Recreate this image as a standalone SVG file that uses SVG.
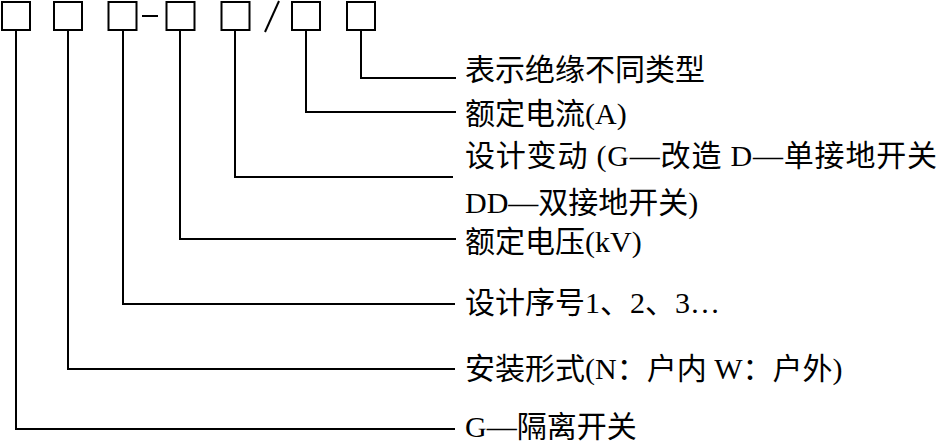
<svg xmlns="http://www.w3.org/2000/svg" width="942" height="444" viewBox="0 0 942 444">
<style>
.box{fill:#fff;stroke:#000;stroke-width:2}
.ln{fill:none;stroke:#000;stroke-width:2}
.t{font-family:"Liberation Serif","Noto Sans CJK SC",serif;font-size:30px;fill:#000}
</style>
<rect x="0" y="0" width="942" height="444" fill="#fff"/>
<g id="box1"><rect class="box" x="2" y="2" width="28" height="28"/></g>
<g id="box2"><rect class="box" x="54" y="2" width="28" height="28"/></g>
<g id="box3"><rect class="box" x="108.5" y="2" width="28" height="28"/></g>
<g id="dash"><line class="ln" x1="142" y1="16" x2="158" y2="16"/></g>
<g id="box4"><rect class="box" x="166.5" y="2" width="28" height="28"/></g>
<g id="box5"><rect class="box" x="221.5" y="2" width="28" height="28"/></g>
<g id="slash"><line class="ln" x1="279" y1="1" x2="265" y2="32"/></g>
<g id="box6"><rect class="box" x="292" y="2" width="28" height="28"/></g>
<g id="box7"><rect class="box" x="347" y="2" width="28" height="28"/></g>
<g id="connectors">
<polyline class="ln" points="16,30 16,429 455,429"/>
<polyline class="ln" points="68,30 68,369 455,369"/>
<polyline class="ln" points="123,30 123,304 455,304"/>
<polyline class="ln" points="180,30 180,239 456,239"/>
<polyline class="ln" points="235,30 235,177 453,177"/>
<polyline class="ln" points="306,30 306,112 456,112"/>
<polyline class="ln" points="361,30 361,78 456,78"/>
</g>
<g id="label7"><text class="t" x="465" y="80">表示绝缘不同类型</text></g>
<g id="label6"><text class="t" x="465" y="124">额定电流(A)</text></g>
<g id="label5"><text class="t" x="465" y="166" textLength="472" lengthAdjust="spacing">设计变动 (G—改造 D—单接地开关</text><text class="t" x="465" y="213">DD—双接地开关)</text></g>
<g id="label4"><text class="t" x="465" y="252">额定电压(kV)</text></g>
<g id="label3"><text class="t" x="465" y="313">设计序号1、2、3…</text></g>
<g id="label2"><text class="t" x="465" y="379">安装形式(N：户内 W：户外)</text></g>
<g id="label1"><text class="t" x="465" y="437">G—隔离开关</text></g>
</svg>
